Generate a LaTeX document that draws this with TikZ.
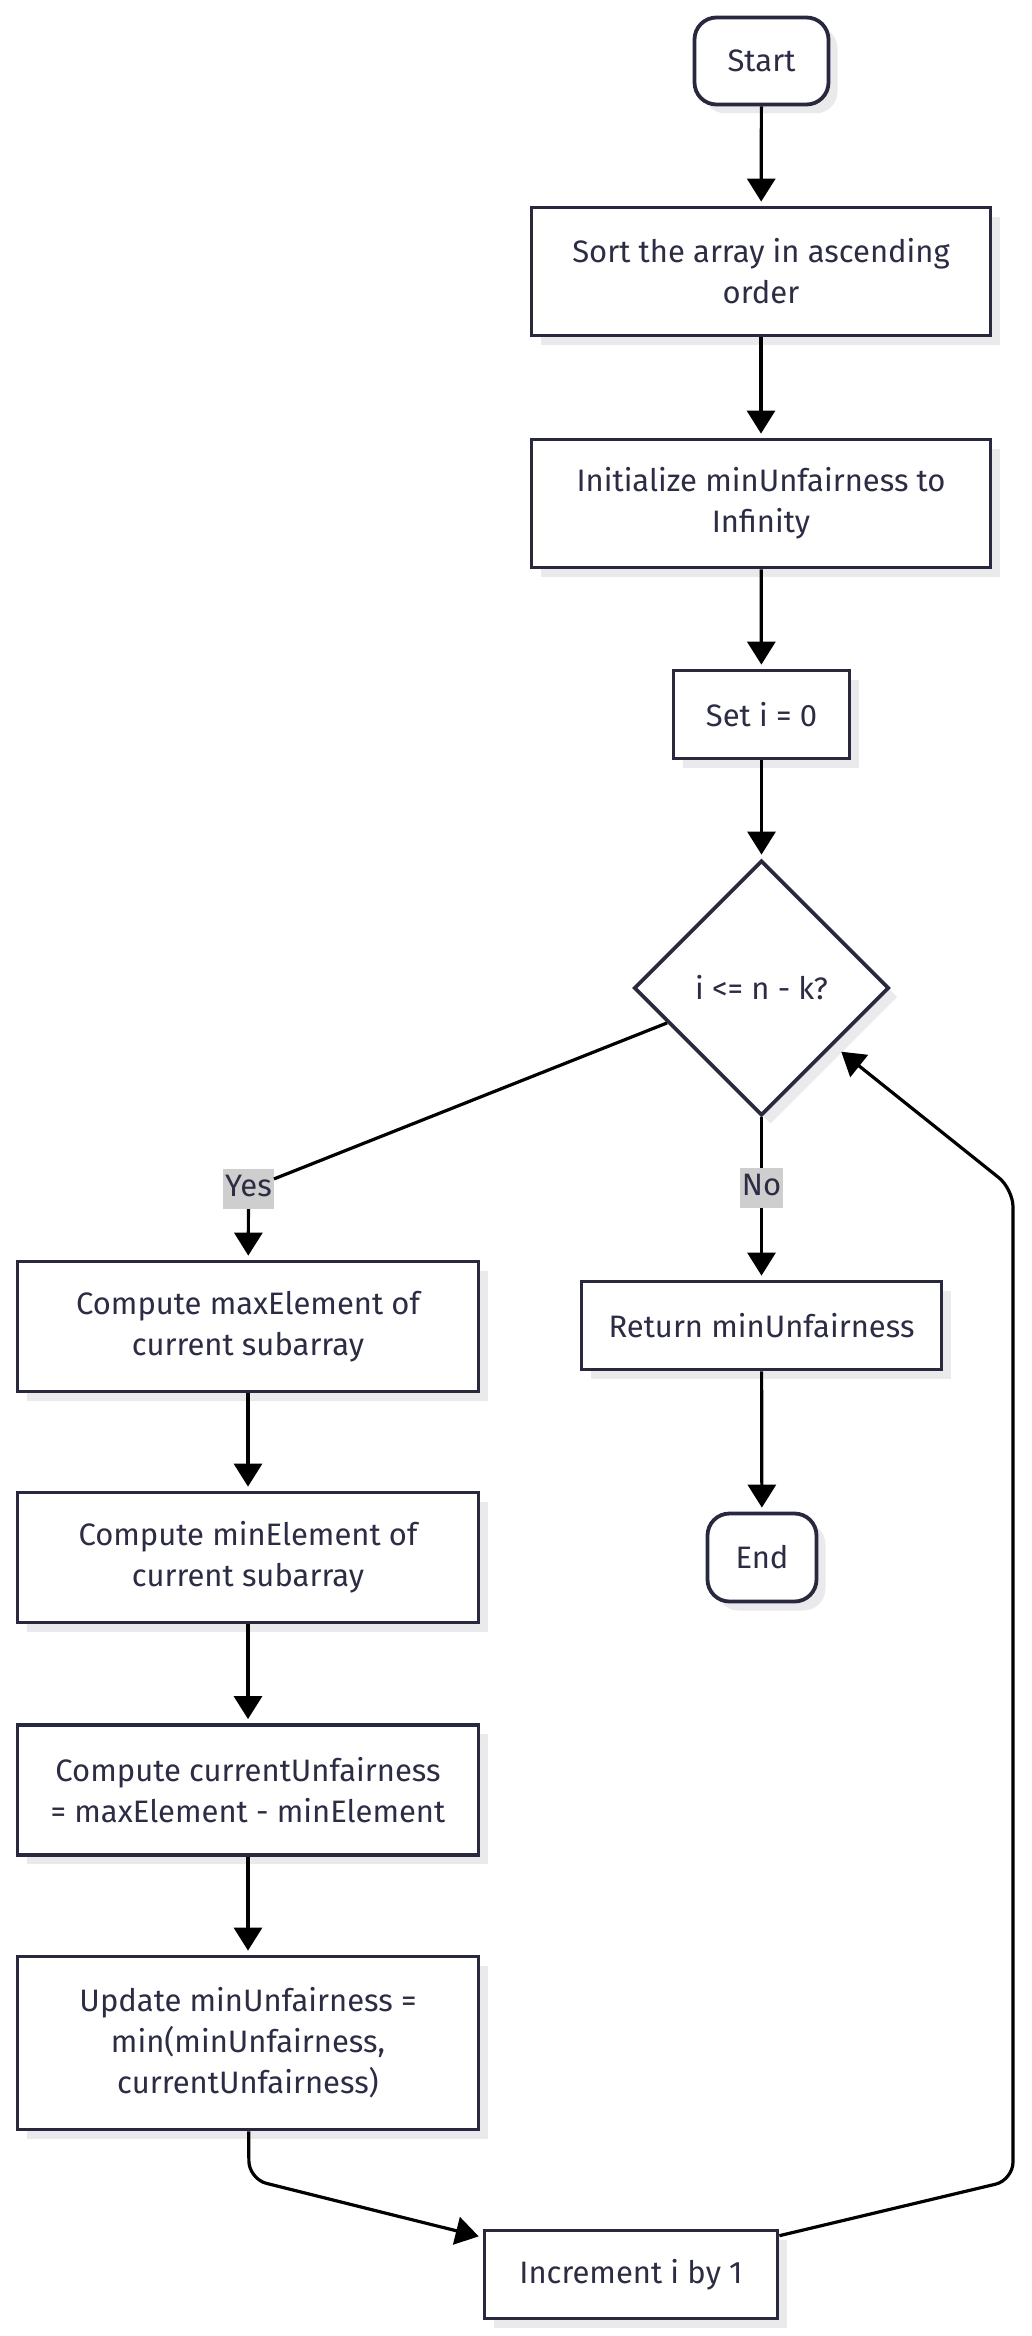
\documentclass[tikz,border=0pt]{standalone}
\usepackage{fontspec}
\setmainfont{Fira Sans}
\usepackage{tikz}
\usepackage{xcolor}
\usetikzlibrary{arrows.meta,shapes.geometric,shadows,calc}

\definecolor{boxline}{RGB}{40,40,62}
\definecolor{boxtext}{RGB}{44,44,68}
\definecolor{shadowgray}{RGB}{234,234,236}
\definecolor{labelgray}{RGB}{206,206,206}

\tikzset{
    flowbox/.style={draw=boxline, line width=3.8pt, fill=white, text=boxtext,
        align=center, inner sep=0pt,
        drop shadow={shadow xshift=9pt, shadow yshift=-9pt, fill=shadowgray, opacity=1}},
    termbox/.style={flowbox, rounded corners=22pt},
    decbox/.style={flowbox, diamond, aspect=1},
    edgelabel/.style={fill=labelgray, text=boxtext, inner xsep=2pt, inner ysep=6pt,
        text height=21pt, text depth=7pt},
    flowline/.style={draw=black, line width=3.2pt},
    flowarrow/.style={flowline, -{Triangle[length=23pt,width=28pt]}, shorten >=4pt}
}

\begin{document}
\begin{tikzpicture}[x=1pt, y=-1pt, font=\fontsize{31}{41}\selectfont]
    \useasboundingbox (0,0) rectangle (1031,2336);

    % Main column on the right:
    \node [termbox, minimum width=134pt, minimum height=87pt] (start) at (761.5,61) {Start};
    \node [flowbox, minimum width=459pt, minimum height=128pt] (sort) at (761,271.5)
        {Sort the array in ascending\\order};
    \node [flowbox, minimum width=459pt, minimum height=128pt] (init) at (761,503.5)
        {Initialize minUnfairness to\\Infinity};
    \node [flowbox, minimum width=176pt, minimum height=88pt] (seti) at (761.5,714.5) {Set i = 0};
    \node [decbox, minimum width=255pt, minimum height=255pt] (dec) at (761.5,988) {i <= n - k?};

    % Branch labels:
    \node [edgelabel] (yes) at (248.5,1189) {Yes};
    \node [edgelabel] (no)  at (761.5,1188) {No};

    \node [flowbox, minimum width=360pt, minimum height=88pt] (ret) at (761.5,1325.5) {Return minUnfairness};
    \node [termbox, minimum width=109pt, minimum height=88pt] (stop) at (762,1557.5) {End};

    % Loop body on the left:
    \node [flowbox, minimum width=461pt, minimum height=130pt] (cmax) at (248,1326.5)
        {Compute maxElement of\\current subarray};
    \node [flowbox, minimum width=461pt, minimum height=130pt] (cmin) at (248,1557.5)
        {Compute minElement of\\current subarray};
    \node [flowbox, minimum width=461pt, minimum height=130pt] (ccur) at (248,1790)
        {Compute currentUnfairness\\= maxElement - minElement};
    \node [flowbox, minimum width=461pt, minimum height=173pt] (upd) at (248,2043)
        {Update minUnfairness =\\min(minUnfairness,\\currentUnfairness)};
    \node [flowbox, minimum width=293pt, minimum height=88pt] (incr) at (631,2274.5) {Increment i by 1};

    % Bends of the loop:
    \coordinate (updturn) at (249,2179);
    \coordinate (loopbot) at (1013,2180);
    \coordinate (looptop) at (1013,1189);

    % Connectors:
    \draw [flowarrow] (start) -- (sort);
    \draw [flowarrow] (sort) -- (init);
    \draw [flowarrow] (init) -- (seti);
    \draw [flowarrow] (seti) -- (dec);
    \draw [flowline] ($(dec.west)!0.27!(dec.south)$) -- (yes);
    \draw [flowarrow] (yes) -- (cmax);
    \draw [flowline] (dec) -- (no);
    \draw [flowarrow] (no) -- (ret);
    \draw [flowarrow] (ret) -- (stop);
    \draw [flowarrow] (cmax) -- (cmin);
    \draw [flowarrow] (cmin) -- (ccur);
    \draw [flowarrow] (ccur) -- (upd);
    \draw [flowarrow, rounded corners=18pt] (upd) -- (updturn)
        -- ($(incr.north west)!0.095!(incr.south west)$);
    \draw [flowarrow, rounded corners=18pt, shorten >=10pt]
        ($(incr.north east)!0.077!(incr.south east)$) -- (loopbot) -- (looptop)
        -- ($(dec.east)!0.444!(dec.south)$);
\end{tikzpicture}
\end{document}
